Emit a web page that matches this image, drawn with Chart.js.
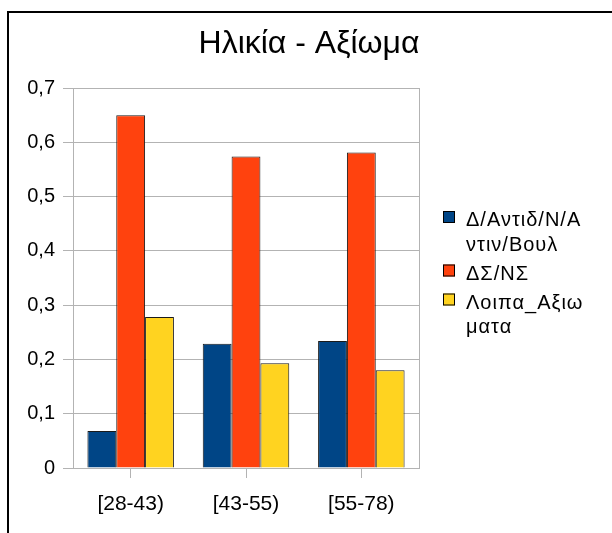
<!DOCTYPE html>
<html>
<head>
<meta charset="utf-8">
<script src="https://cdn.jsdelivr.net/npm/chart.js@4"></script>
<style>
  body { margin: 0; background: #fff; }
  canvas { display: block; }
</style>
</head>
<body>
<canvas id="ageChart" width="612" height="533"></canvas>
<script>
// data
const categories = ["[28-43)", "[43-55)", "[55-78)"];
const seriesNames = [
    ["Δ/Αντιδ/Ν/Α", "ντιν/Βουλ"],
    ["ΔΣ/ΝΣ"],
    ["Λοιπα_Αξιω", "ματα"]
];
const antidValues = [0.068, 0.229, 0.234];
const dsnsValues = [0.650, 0.574, 0.581];
const loipaValues = [0.278, 0.193, 0.180];
const yTicks = [0, 0.1, 0.2, 0.3, 0.4, 0.5, 0.6, 0.7];
const chartTitle = "Ηλικία - Αξίωμα";

const colors = ["#004586", "#ff420e", "#ffd320"];
const gridColor = "#b3b3b3";
const fontFamily = "'Liberation Sans', Arial, sans-serif";

// outer frame, title and right edge of the plot
const framePlugin = {
    id: "frame",
    afterDraw(chart) {
        const ctx = chart.ctx;
        const a = chart.chartArea;
        ctx.save();
        ctx.strokeStyle = gridColor;
        ctx.lineWidth = 1;
        ctx.beginPath();
        ctx.moveTo(Math.round(a.right) + 0.5, a.top);
        ctx.lineTo(Math.round(a.right) + 0.5, a.bottom);
        ctx.stroke();

        ctx.strokeStyle = "#000";
        ctx.lineWidth = 2;
        ctx.beginPath();
        ctx.moveTo(8, 533);
        ctx.lineTo(8, 12);
        ctx.lineTo(612, 12);
        ctx.stroke();

        ctx.fillStyle = "#000";
        ctx.font = "32px " + fontFamily;
        ctx.textAlign = "center";
        ctx.textBaseline = "middle";
        ctx.fillText(chartTitle, 309, 44);
        ctx.restore();
    }
};

// legend with wrapped labels
const wrapLegendPlugin = {
    id: "wrapLegend",
    afterDraw(chart) {
        const ctx = chart.ctx;
        const x = chart.chartArea.right + 24;
        let baseline = 226;
        ctx.save();
        ctx.font = "20px " + fontFamily;
        ctx.letterSpacing = "1px";
        ctx.textBaseline = "alphabetic";
        chart.data.datasets.forEach((ds, i) => {
            ctx.fillStyle = ds.backgroundColor;
            ctx.fillRect(x, baseline - 15, 12, 12);
            ctx.strokeStyle = "#000";
            ctx.lineWidth = 1;
            ctx.strokeRect(x + 0.5, baseline - 14.5, 11, 11);
            ctx.fillStyle = "#000";
            seriesNames[i].forEach((line, j) => {
                ctx.fillText(line, x + 23, baseline);
                if (j < seriesNames[i].length - 1) baseline += 24.5;
            });
            baseline += 29;
        });
        ctx.restore();
    }
};

const series = [antidValues, dsnsValues, loipaValues];

new Chart(document.getElementById("ageChart"), {
    type: "bar",
    data: {
        labels: categories,
        datasets: series.map((vals, i) => ({
            label: seriesNames[i].join(""),
            data: vals,
            backgroundColor: colors[i],
            borderColor: "#1a1a1a",
            borderWidth: 1,
            categoryPercentage: 0.75,
            barPercentage: 1
        }))
    },
    options: {
        responsive: false,
        animation: false,
        layout: { padding: { left: 8, top: 88, right: 193, bottom: 0 } },
        plugins: {
            legend: { display: false },
            tooltip: { enabled: false },
            title: { display: false }
        },
        scales: {
            x: {
                grid: {
                    offset: false,
                    drawOnChartArea: false,
                    color: gridColor,
                    tickLength: 10
                },
                border: { color: gridColor },
                ticks: {
                    color: "#000",
                    padding: 14,
                    font: { family: fontFamily, size: 21 }
                },
                afterFit(scale) { scale.height = 65; }
            },
            y: {
                min: 0,
                max: 0.7,
                afterBuildTicks(scale) {
                    scale.ticks = yTicks.map(v => ({ value: v }));
                },
                grid: { color: gridColor, tickLength: 10 },
                border: { color: gridColor },
                ticks: {
                    color: "#000",
                    padding: 8,
                    font: { family: fontFamily, size: 20 },
                    callback: v => String(v).replace(".", ",")
                },
                afterFit(scale) { scale.width = 65; }
            }
        }
    },
    plugins: [framePlugin, wrapLegendPlugin]
});
</script>
</body>
</html>
